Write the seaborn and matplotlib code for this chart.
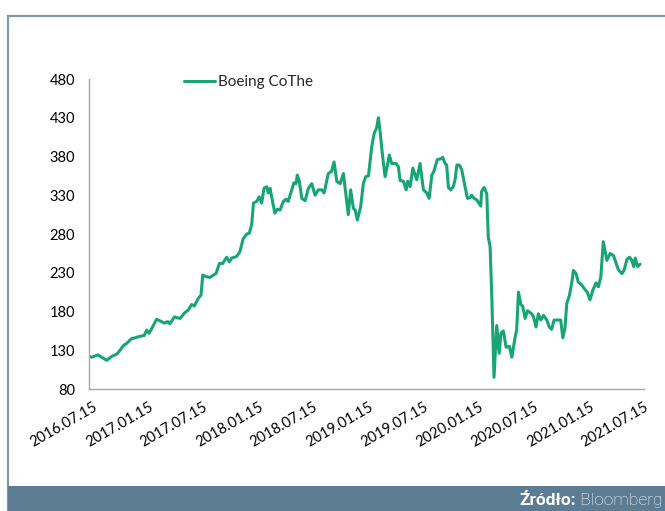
import matplotlib
matplotlib.use("Agg")
import matplotlib.pyplot as plt
import matplotlib.dates as mdates
from matplotlib.patches import Rectangle
from matplotlib.transforms import ScaledTranslation
import pandas as pd
import seaborn as sns

dates = [
    "2016-07-15", "2016-07-24", "2016-08-13", "2016-08-26", "2016-09-12", "2016-09-28",
    "2016-10-15", "2016-10-26", "2016-11-06", "2016-11-17", "2016-12-03", "2016-12-14",
    "2016-12-31", "2017-01-14", "2017-01-22", "2017-01-30", "2017-02-08", "2017-02-24",
    "2017-03-07", "2017-03-22", "2017-04-02", "2017-04-09", "2017-04-24", "2017-05-13",
    "2017-05-27", "2017-06-09", "2017-06-20", "2017-06-29", "2017-07-12", "2017-07-21",
    "2017-07-27", "2017-08-07", "2017-08-20", "2017-08-31", "2017-09-09", "2017-09-20",
    "2017-10-01", "2017-10-14", "2017-10-23", "2017-10-31", "2017-11-16", "2017-11-27",
    "2017-12-08", "2017-12-20", "2017-12-28", "2018-01-05", "2018-01-11", "2018-01-22",
    "2018-01-30", "2018-02-07", "2018-02-15", "2018-02-24", "2018-03-01", "2018-03-07",
    "2018-03-16", "2018-03-23", "2018-03-31", "2018-04-09", "2018-04-20", "2018-04-29",
    "2018-05-06", "2018-05-18", "2018-05-25", "2018-06-01", "2018-06-05", "2018-06-12",
    "2018-06-20", "2018-07-01", "2018-07-12", "2018-07-23", "2018-08-03", "2018-08-14",
    "2018-08-25", "2018-09-02", "2018-09-16", "2018-09-27", "2018-10-05", "2018-10-14",
    "2018-10-25", "2018-11-05", "2018-11-14", "2018-11-21", "2018-11-29", "2018-12-08",
    "2018-12-14", "2018-12-21", "2019-01-01", "2019-01-10", "2019-01-18", "2019-01-27",
    "2019-02-07", "2019-02-15", "2019-02-23", "2019-03-01", "2019-03-06", "2019-03-15",
    "2019-03-23", "2019-03-31", "2019-04-06", "2019-04-14", "2019-04-28", "2019-05-06",
    "2019-05-12", "2019-05-23", "2019-06-01", "2019-06-06", "2019-06-14", "2019-06-23",
    "2019-07-06", "2019-07-17", "2019-07-28", "2019-08-08", "2019-08-16", "2019-08-25",
    "2019-09-01", "2019-09-12", "2019-09-24", "2019-09-30", "2019-10-08", "2019-10-13",
    "2019-10-19", "2019-10-27", "2019-11-04", "2019-11-10", "2019-11-16", "2019-11-24",
    "2019-12-02", "2019-12-13", "2019-12-21", "2019-12-30", "2020-01-04", "2020-01-12",
    "2020-01-21", "2020-01-29", "2020-02-03", "2020-02-06", "2020-02-14", "2020-02-23",
    "2020-02-28", "2020-03-05", "2020-03-11", "2020-03-18", "2020-03-27", "2020-04-04",
    "2020-04-10", "2020-04-18", "2020-04-27", "2020-05-08", "2020-05-16", "2020-05-27",
    "2020-06-01", "2020-06-07", "2020-06-15", "2020-06-21", "2020-06-29", "2020-07-07",
    "2020-07-21", "2020-07-27", "2020-08-04", "2020-08-12", "2020-08-20", "2020-08-29",
    "2020-09-09", "2020-09-17", "2020-09-25", "2020-10-03", "2020-10-12", "2020-10-25",
    "2020-11-01", "2020-11-08", "2020-11-14", "2020-11-23", "2020-12-01", "2020-12-06",
    "2020-12-15", "2020-12-22", "2021-01-03", "2021-01-14", "2021-01-21", "2021-01-30",
    "2021-02-08", "2021-02-19", "2021-02-27", "2021-03-07", "2021-03-15", "2021-03-27",
    "2021-04-07", "2021-04-18", "2021-04-27", "2021-05-04", "2021-05-16", "2021-05-23",
    "2021-06-01", "2021-06-10", "2021-06-18", "2021-06-24", "2021-06-29", "2021-07-07",
    "2021-07-15",
]
prices = [
    122, 121, 124, 121, 117, 122,
    125, 130, 136, 139, 145, 146,
    148, 149, 156, 152, 158, 170,
    168, 165, 167, 164, 173, 171,
    178, 182, 189, 187, 197, 201,
    227, 225, 224, 227, 229, 242,
    242, 250, 244, 249, 251, 257,
    274, 280, 281, 292, 320, 322,
    328, 320, 339, 341, 333, 339,
    320, 307, 312, 311, 322, 325,
    322, 337, 346, 345, 356, 348,
    326, 323, 339, 345, 330, 337,
    337, 333, 358, 361, 373, 348,
    345, 358, 328, 305, 337, 313,
    311, 298, 315, 345, 354, 355,
    393, 410, 417, 430, 414, 380,
    354, 369, 382, 371, 371, 367,
    349, 348, 337, 348, 341, 365,
    350, 371, 337, 333, 326, 356,
    361, 376, 377, 379, 371, 369,
    340, 337, 341, 350, 369, 369,
    363, 341, 326, 327, 330, 326,
    324, 319, 316, 335, 340, 332,
    276, 264, 195, 95, 162, 126,
    152, 155, 134, 135, 121, 147,
    156, 205, 189, 187, 171, 181,
    177, 173, 160, 177, 169, 175,
    169, 160, 157, 169, 169, 169,
    146, 158, 190, 201, 218, 233,
    229, 218, 214, 208, 205, 195,
    207, 217, 212, 225, 270, 246,
    255, 252, 242, 234, 229, 233,
    247, 250, 246, 238, 249, 238,
    241,
]
series_name = "Boeing CoThe"
tick_dates = ["2016-07-15", "2017-01-15", "2017-07-15", "2018-01-15", "2018-07-15",
              "2019-01-15", "2019-07-15", "2020-01-15", "2020-07-15", "2021-01-15",
              "2021-07-15"]
y_ticks = [80, 130, 180, 230, 280, 330, 380, 430, 480]
source_bold = "Źródło:"
source_name = " Bloomberg"

df = pd.DataFrame({"date": pd.to_datetime(dates), "price": prices, "series": series_name})

sns.set_style("white")
plt.rcParams["font.family"] = ["Lato", "DejaVu Sans"]

W, H = 665, 511
fig = plt.figure(figsize=(W / 100, H / 100), dpi=100)

# frame and footer band
fig.patches.append(Rectangle((8 / W, 0), 1, (H - 16) / H, transform=fig.transFigure,
                             fill=False, edgecolor="#7f98aa", linewidth=1.6, zorder=0))
fig.patches.append(Rectangle((8 / W, 0), 1, 25 / H, transform=fig.transFigure,
                             facecolor="#5b7c93", edgecolor="none", zorder=1))

ax = fig.add_axes([89 / W, 1 - 389 / H, (644 - 89) / W, (389 - 79) / H])
sns.lineplot(data=df, x="date", y="price", hue="series", palette=["#17a673"],
             linewidth=2.2, ax=ax)

ax.set_xlim(pd.Timestamp("2016-07-15"), pd.Timestamp("2021-07-28"))
ax.set_ylim(80, 480)
ax.set_yticks(y_ticks)
ax.set_xticks(pd.to_datetime(tick_dates))
ax.xaxis.set_major_formatter(mdates.DateFormatter("%Y.%m.%d"))
ax.set_xlabel("")
ax.set_ylabel("")
for s in ["top", "right"]:
    ax.spines[s].set_visible(False)
for s in ["left", "bottom"]:
    ax.spines[s].set_color("#a6a6a6")
    ax.spines[s].set_linewidth(1.0)
ax.tick_params(axis="both", which="major", direction="out", length=4, width=1,
               color="#a6a6a6", labelcolor="#000000")
ax.tick_params(axis="y", labelsize=10.5, pad=6)
ax.tick_params(axis="x", labelsize=10.5, pad=4)
shift = ScaledTranslation(4 / 100, 0, fig.dpi_scale_trans)
for lbl in ax.get_xticklabels():
    lbl.set_rotation(30)
    lbl.set_ha("right")
    lbl.set_rotation_mode("anchor")
    lbl.set_transform(lbl.get_transform() + shift)

leg = ax.legend(loc="center left", bbox_to_anchor=(184 / W, 1 - 82 / H),
                bbox_transform=fig.transFigure, frameon=False, fontsize=11,
                handlelength=2.0, handletextpad=0.2, borderpad=0, borderaxespad=0)

t1 = fig.text(663 / W, 11 / H, source_name, color="white", fontsize=12.5,
              ha="right", va="center", family=["Roboto", "DejaVu Sans"], fontweight="light")
fig.canvas.draw()
bb = t1.get_window_extent()
fig.text(bb.x0 / W, 11 / H, source_bold, color="white", fontsize=12.5,
         ha="right", va="center", family=["Roboto", "DejaVu Sans"], fontweight="bold")

fig.savefig("out.png", dpi=100)
